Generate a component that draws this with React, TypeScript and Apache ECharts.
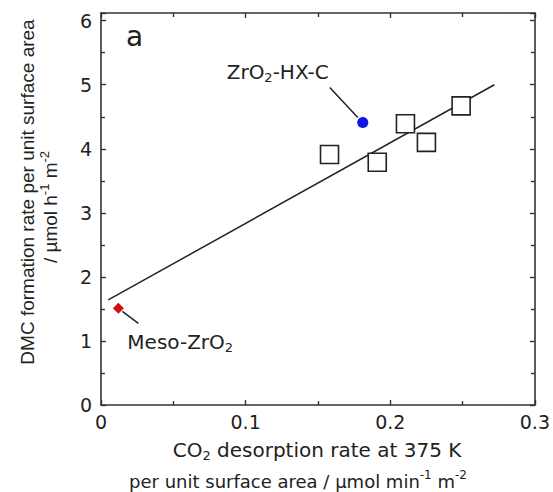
import React, { useEffect, useRef } from "react";
import * as echarts from "echarts";

// Square markers (catalysts)
const squaresX = [0.158, 0.191, 0.2105, 0.225, 0.249];
const squaresY = [3.91, 3.79, 4.39, 4.1, 4.67];
// Highlighted samples
const hxcPoint = [0.181, 4.41]; // ZrO2-HX-C
const mesoPoint = [0.012, 1.51]; // Meso-ZrO2
// Linear fit end points
const fitX = [0.005, 0.272];
const fitY = [1.64, 5.0];
// Axis ranges
const xRange = [0, 0.3];
const yRange = [0, 6.12];

const FONT_H = "DejaVu Sans";
const FONT_V = "Liberation Sans";
const TXT = "#222";

function richSet(font: string, size: number) {
  return {
    n: { fontFamily: font, fontSize: size, fill: TXT, lineHeight: 24, verticalAlign: "middle" as const },
    s: { fontFamily: font, fontSize: Math.round(size * 0.66), fill: TXT, lineHeight: 10, verticalAlign: "bottom" as const },
    p: { fontFamily: font, fontSize: Math.round(size * 0.66), fill: TXT, lineHeight: 12, verticalAlign: "top" as const },
  };
}

export default function App() {
  const ref = useRef<HTMLDivElement>(null);
  useEffect(() => {
    if (!ref.current) return;
    const chart = echarts.init(ref.current, null, { renderer: "svg" });
    const axisLine = { show: true, onZero: false, lineStyle: { color: "#333", width: 1.6 } };
    const tick = { show: true, inside: true, length: 5, lineStyle: { color: "#333", width: 1.4 } };
    const minor = { show: true, splitNumber: 2, length: 4, lineStyle: { color: "#333", width: 1.4 } };
    const lbl = { fontFamily: FONT_H, fontSize: 19, color: TXT };
    const option: any = {
      animation: false,
      backgroundColor: "#fff",
      grid: { left: 101, right: 14, top: 13, bottom: 87 },
      xAxis: [
        {
          type: "value", min: xRange[0], max: xRange[1], interval: 0.1,
          axisLine, axisTick: tick, minorTick: minor, splitLine: { show: false },
          axisLabel: { ...lbl, margin: 7 },
        },
        {
          type: "value", position: "top", min: xRange[0], max: xRange[1], interval: 0.1,
          axisLine, axisTick: tick, minorTick: minor, splitLine: { show: false },
          axisLabel: { show: false },
        },
      ],
      yAxis: [
        {
          type: "value", min: yRange[0], max: yRange[1], interval: 1,
          axisLine, axisTick: tick, minorTick: minor, splitLine: { show: false },
          axisLabel: { ...lbl, margin: 9, formatter: (v: number) => (Number.isInteger(v) ? String(v) : "") },
        },
        {
          type: "value", position: "right", min: yRange[0], max: yRange[1], interval: 1,
          axisLine, axisTick: tick, minorTick: minor, splitLine: { show: false },
          axisLabel: { show: false },
        },
      ],
      series: [
        {
          type: "line",
          data: fitX.map((x, i) => [x, fitY[i]]),
          showSymbol: false,
          lineStyle: { color: "#222", width: 1.5 },
          z: 2,
        },
        {
          type: "scatter",
          data: squaresX.map((x, i) => [x, squaresY[i]]),
          symbol: "rect",
          symbolSize: 18,
          itemStyle: { color: "#fff", borderColor: "#222", borderWidth: 1.6, opacity: 1 },
          z: 3,
        },
        {
          type: "scatter",
          data: [hxcPoint],
          symbol: "circle",
          symbolSize: 11,
          itemStyle: { color: "#1414e6", opacity: 1 },
          z: 4,
        },
        {
          type: "scatter",
          data: [mesoPoint],
          symbol: "diamond",
          symbolSize: 11,
          itemStyle: { color: "#cc1111", opacity: 1 },
          z: 4,
        },
      ],
    };
    chart.setOption(option);

    const pB = chart.convertToPixel({ gridIndex: 0 }, hxcPoint) as number[];
    const pR = chart.convertToPixel({ gridIndex: 0 }, mesoPoint) as number[];
    const rich20 = richSet(FONT_H, 20);
    const rich18 = richSet(FONT_H, 18);
    const richV = richSet(FONT_V, 19);
    chart.setOption({
      graphic: [
        {
          type: "text", left: 126, top: 22,
          style: { text: "a", fontFamily: FONT_H, fontSize: 28, fill: TXT },
        },
        {
          type: "line",
          shape: { x1: pB[0] - 5, y1: pB[1] - 5, x2: pB[0] - 33, y2: pB[1] - 35 },
          style: { stroke: "#222", lineWidth: 1.5 },
        },
        {
          type: "text", x: pB[0] - 34, y: pB[1] - 51,
          style: { text: "{n|ZrO}{s|2}{n|-HX-C}", rich: rich20, align: "right", verticalAlign: "middle" },
        },
        {
          type: "line",
          shape: { x1: pR[0] + 4, y1: pR[1] + 3, x2: pR[0] + 20, y2: pR[1] + 15 },
          style: { stroke: "#222", lineWidth: 1.5 },
        },
        {
          type: "text", x: pR[0] + 9, y: pR[1] + 34,
          style: { text: "{n|Meso-ZrO}{s|2}", rich: rich20, align: "left", verticalAlign: "middle" },
        },
        {
          type: "text", x: 317, y: 450,
          style: { text: "{n|CO}{s|2}{n| desorption rate at 375 K}", rich: rich20, align: "center", verticalAlign: "middle" },
        },
        {
          type: "text", x: 298, y: 481,
          style: { text: "{n|per unit surface area / \u00b5mol min}{p|-1}{n| m}{p|-2}", rich: rich18, align: "center", verticalAlign: "middle" },
        },
        {
          type: "text", x: 27, y: 192, rotation: Math.PI / 2,
          style: { text: "{n|DMC formation rate per unit surface area}", rich: richV, align: "center", verticalAlign: "middle" },
        },
        {
          type: "text", x: 50, y: 207, rotation: Math.PI / 2,
          style: { text: "{n|/ \u00b5mol h}{p|-1}{n| m}{p|-2}", rich: richV, align: "center", verticalAlign: "middle" },
        },
      ],
    });
    return () => chart.dispose();
  }, []);
  return <div ref={ref} style={{ position: "fixed", left: 0, top: 0, width: 553, height: 492 }} />;
}
